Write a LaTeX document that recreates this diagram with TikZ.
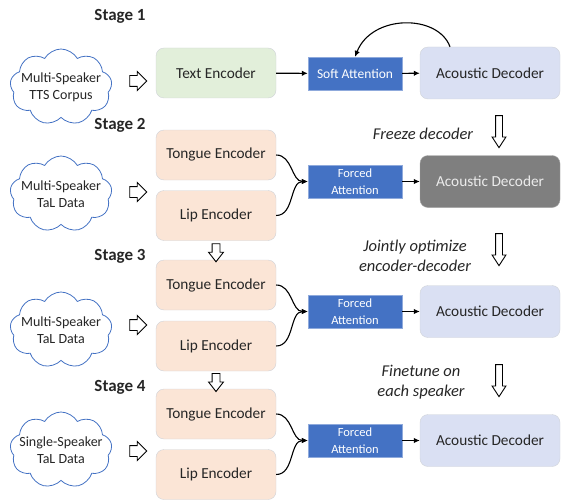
\documentclass[tikz,border=0pt]{standalone}
\usepackage{fontspec}
\setmainfont{Carlito}
\usepackage{xcolor}
\usepackage{tikz}
\usetikzlibrary{arrows.meta,shapes.symbols,shapes.arrows,calc}

\definecolor{boxline}{HTML}{D0D3D8}
\definecolor{textgreen}{HTML}{E2EFDA}
\definecolor{peach}{HTML}{FBE5D6}
\definecolor{declight}{HTML}{DAE0F3}
\definecolor{decgray}{HTML}{7F7F7F}
\definecolor{attnblue}{HTML}{4472C4}
\definecolor{attnline}{HTML}{8FAADC}
\definecolor{cloudblue}{HTML}{4472C4}

\begin{document}
\begin{tikzpicture}[x=1pt,y=-1pt]
    \tikzstyle{block} = [draw=boxline,rounded corners=8pt,minimum width=120pt,minimum height=50pt,text=black!85,font=\fontsize{15.3}{18}\selectfont]
    \tikzstyle{encoder} = [block,fill=peach]
    \tikzstyle{decoder} = [block,fill=declight,minimum width=140pt,minimum height=52pt]
    \tikzstyle{attn} = [draw=attnline,fill=attnblue,text=white,minimum width=94pt,minimum height=33pt,inner sep=1pt,align=center,font=\fontsize{12.5}{17}\selectfont]
    \tikzstyle{corpus} = [cloud,cloud puffs=9,cloud puff arc=120,aspect=1.4,draw=cloudblue,line width=0.8pt,fill=white,minimum width=102pt,minimum height=76pt,inner sep=0pt]
    \tikzstyle{corpustext} = [align=center,text=black!85,font=\fontsize{14}{17}\selectfont]
    \tikzstyle{hollow} = [single arrow,draw,fill=white,line width=0.9pt,inner xsep=0pt]
    \tikzstyle{sidearrow} = [hollow,minimum height=17pt,inner ysep=5pt,single arrow head extend=4pt,single arrow tip angle=90]
    \tikzstyle{bigdown} = [hollow,rotate=-90,minimum height=32pt,inner ysep=3pt,single arrow head extend=3.5pt,single arrow tip angle=66]
    \tikzstyle{smalldown} = [hollow,rotate=-90,minimum height=18pt,inner ysep=3.5pt,single arrow head extend=3.5pt,single arrow tip angle=76]
    \tikzstyle{stage} = [text=black!85,font=\fontsize{17}{20}\selectfont\bfseries]
    \tikzstyle{note} = [align=center,text=black!85,font=\fontsize{16.5}{20}\selectfont\itshape]
    \tikzstyle{link} = [line width=1.1pt,-{Latex[length=6pt,width=5.5pt]}]
    \useasboundingbox (0,0) rectangle (561,500);

    % Stage 1
    \node[stage] (st1) at (120,16) {Stage 1};
    \node[corpus] (cl1) at (61,87) {};
    \node[corpustext] (cl1txt) at (cl1.center) {Multi-Speaker\\TTS Corpus};
    \node[sidearrow] (in1) at (135.5,81) {};
    \node[block,fill=textgreen] (text1) at (216,73) {Text Encoder};
    \node[attn,font=\fontsize{13.5}{17}\selectfont] (soft1) at (355,73.5) {Soft Attention};
    \node[decoder] (dec1) at (490,73) {Acoustic Decoder};
    \draw[link] (text1) -- (soft1);
    \draw[link] (soft1) -- (dec1);
    \draw[link] ([xshift=-40pt]dec1.north) .. controls (438,14) and (372,14) .. (soft1.north);

    % Stage 2
    \node[stage] (st2) at (120,125) {Stage 2};
    \node[corpus] (cl2) at (61,194) {};
    \node[corpustext] (cl2txt) at (cl2.center) {Multi-Speaker\\TaL Data};
    \node[sidearrow] (in2) at (135.5,192) {};
    \node[encoder] (tongue2) at (216,155) {Tongue Encoder};
    \node[encoder] (lip2) at (216,215.5) {Lip Encoder};
    \node[attn] (fa2) at (355,181.5) {Forced\\Attention};
    \node[block,fill=decgray,draw=decgray!70,text=white!92!black,minimum width=140pt,minimum height=52pt] (dec2) at (490,181.5) {Acoustic Decoder};
    \draw[link] (tongue2.east) to[out=0,in=180] (fa2.west);
    \draw[link] (lip2.east) to[out=0,in=180] (fa2.west);
    \draw[link] (fa2) -- (dec2);
    \node[note] (nt1) at (423,134) {Freeze decoder};
    \node[bigdown] (dn1) at (499,129) {};

    % Stage 3
    \node[stage] (st3) at (120,256) {Stage 3};
    \node[corpus] (cl3) at (61,330) {};
    \node[corpustext] (cl3txt) at (cl3.center) {Multi-Speaker\\TaL Data};
    \node[sidearrow] (in3) at (135.5,325) {};
    \node[encoder] (tongue3) at (216,285) {Tongue Encoder};
    \node[encoder] (lip3) at (216,346) {Lip Encoder};
    \node[smalldown] (dn2) at ($(lip2.south)!0.5!(tongue3.north)$) {};
    \node[attn] (fa3) at (355,311.5) {Forced\\Attention};
    \node[decoder] (dec3) at (490,311.5) {Acoustic Decoder};
    \draw[link] (tongue3.east) to[out=0,in=180] (fa3.west);
    \draw[link] (lip3.east) to[out=0,in=180] (fa3.west);
    \draw[link] (fa3) -- (dec3);
    \node[note] (nt2) at (415,255.5) {Jointly optimize\\encoder-decoder};
    \node[bigdown] (dn3) at (499,247) {};

    % Stage 4
    \node[stage] (st4) at (120,387) {Stage 4};
    \node[corpus] (cl4) at (61,450) {};
    \node[corpustext] (cl4txt) at (cl4.center) {Single-Speaker\\TaL Data};
    \node[sidearrow] (in4) at (135.5,451) {};
    \node[encoder] (tongue4) at (216,414) {Tongue Encoder};
    \node[encoder] (lip4) at (216,474.5) {Lip Encoder};
    \node[smalldown] (dn5) at ($(lip3.south)!0.5!(tongue4.north)$) {};
    \node[attn] (fa4) at (355,440.5) {Forced\\Attention};
    \node[decoder] (dec4) at (490,440.5) {Acoustic Decoder};
    \draw[link] (tongue4.east) to[out=0,in=180] (fa4.west);
    \draw[link] (lip4.east) to[out=0,in=180] (fa4.west);
    \draw[link] (fa4) -- (dec4);
    \node[note] (nt3) at (421,382.5) {Finetune on\\each speaker};
    \node[bigdown] (dn4) at (499,378) {};
\end{tikzpicture}
\end{document}
